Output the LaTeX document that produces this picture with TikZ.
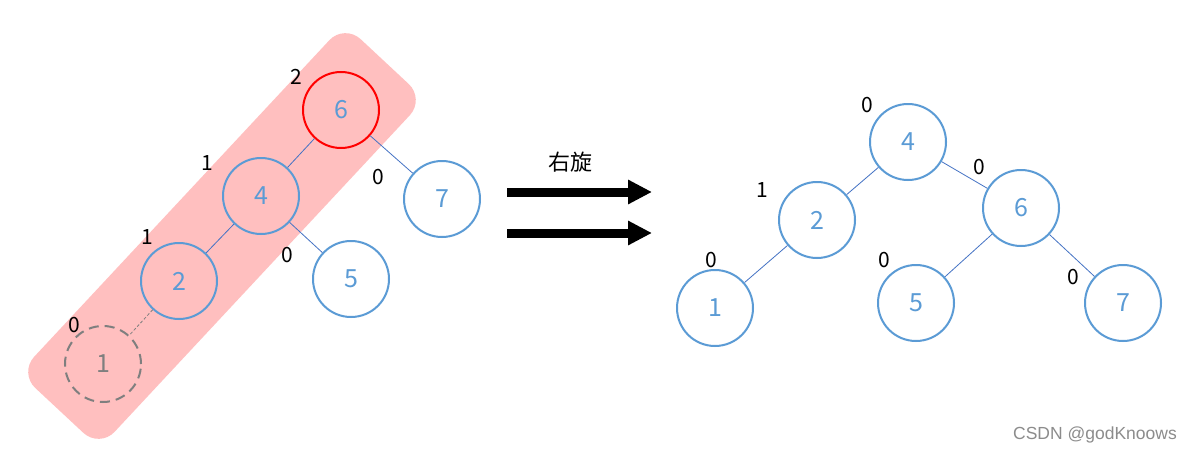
\documentclass[tikz,border=0pt]{standalone}
\usepackage{fontspec}
\setmainfont{Noto Sans CJK SC}
\newfontfamily\wmfont{Liberation Sans}
\usetikzlibrary{arrows.meta}
\definecolor{nodeblue}{HTML}{5B9BD5}
\definecolor{edgeblue}{HTML}{4472C4}
\definecolor{pinkfill}{HTML}{FFBFBF}
\definecolor{dashgray}{HTML}{7F7F7F}
\tikzset{
  tnode/.style={circle, draw=nodeblue, line width=2pt, minimum size=76pt, inner sep=0pt, text=nodeblue, font=\fontsize{25}{25}\selectfont},
  rednode/.style={tnode, draw=red},
  ghostnode/.style={tnode, draw=dashgray, text=dashgray, dash pattern=on 10pt off 6pt},
  edge/.style={draw=edgeblue, line width=0.8pt},
  ghostedge/.style={draw=dashgray, line width=0.8pt, dash pattern=on 3pt off 2pt},
  bal/.style={font=\fontsize{21}{21}\selectfont, text=black, inner sep=0pt},
  bigarrow/.style={line width=9pt, -{Triangle[length=24pt,width=23pt]}},
  pinkbox/.style={fill=pinkfill, rounded corners=22pt, inner sep=0pt, minimum width=477pt, minimum height=110pt}
}
\begin{document}
\begin{tikzpicture}[x=1pt,y=-1pt]
\useasboundingbox[fill=white] (0,0) rectangle (1196,455);
% highlight band
\node[pinkbox, rotate=47] (band) at (222,236) {};
% left tree
\node[rednode] (L6) at (341,110) {6};
\node[tnode] (L4) at (261,196) {4};
\node[tnode] (L2) at (179,281) {2};
\node[ghostnode] (L1) at (103,364) {1};
\node[tnode, fill=white] (L7) at (442,199) {7};
\node[tnode, fill=white] (L5) at (351,279) {5};
\draw[edge] (L6) -- (L4);
\draw[edge] (L6) -- (L7);
\draw[edge] (L4) -- (L2);
\draw[edge] (L4) -- (L5);
\draw[ghostedge] (L2) -- (L1);
\node[bal] (bL6) at (296,77) {2};
\node[bal] (bL4) at (207,163) {1};
\node[bal] (bL2) at (147,237) {1};
\node[bal] (bL1) at (74,325) {0};
\node[bal] (bL7) at (378,177) {0};
\node[bal] (bL5) at (287,255) {0};
% arrows
\node[font=\fontsize{22}{22}\selectfont, inner sep=0pt] (rot) at (570,162) {右旋};
\coordinate (a1s) at (507,192);
\coordinate (a1e) at (652,192);
\coordinate (a2s) at (507,233);
\coordinate (a2e) at (652,233);
\draw[bigarrow] (a1s) -- (a1e);
\draw[bigarrow] (a2s) -- (a2e);
% right tree
\node[tnode] (R4) at (908,142) {4};
\node[tnode] (R2) at (817,220) {2};
\node[tnode] (R6) at (1021,208) {6};
\node[tnode] (R1) at (715,308) {1};
\node[tnode] (R5) at (916,303) {5};
\node[tnode] (R7) at (1123,303) {7};
\draw[edge] (R4) -- (R2);
\draw[edge] (R4) -- (R6);
\draw[edge] (R2) -- (R1);
\draw[edge] (R6) -- (R5);
\draw[edge] (R6) -- (R7);
\node[bal] (bR4) at (867,105) {0};
\node[bal] (bR2) at (762,190) {1};
\node[bal] (bR6) at (979,167) {0};
\node[bal] (bR1) at (711,260) {0};
\node[bal] (bR5) at (884,260) {0};
\node[bal] (bR7) at (1073,277) {0};
% watermark
\node[font=\wmfont\fontsize{17.5}{17.5}\selectfont, text=black!45, inner sep=0pt] (wm) at (1095,435) {CSDN @godKnoows};
\end{tikzpicture}
\end{document}
